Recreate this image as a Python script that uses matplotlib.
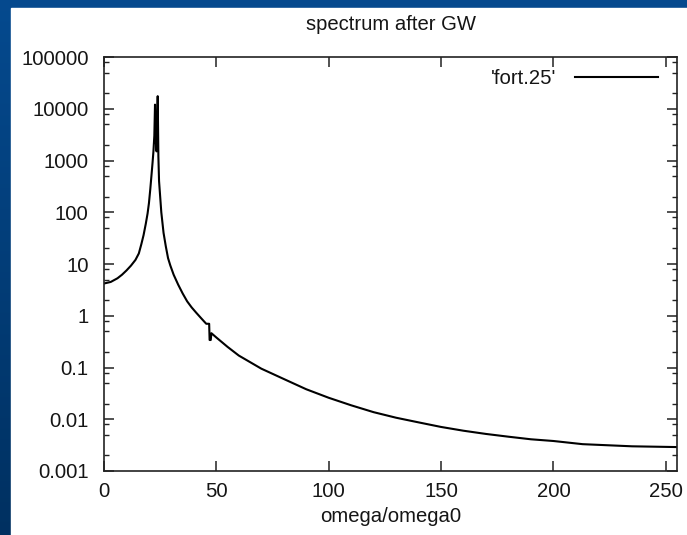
import numpy as np
import matplotlib
matplotlib.use("Agg")
import matplotlib.pyplot as plt
from matplotlib.ticker import LogLocator, NullFormatter, FixedLocator

# ---- data ----
omega = [0, 3, 6, 8, 10, 12, 14, 15.5, 16.6, 17.6, 18.6, 19.4, 20, 20.6, 21.1, 21.6,
         22, 22.4, 22.7, 23, 23.4, 23.9, 24.2, 24.5, 25.5, 26.5, 27.5, 28.5, 29.5, 31,
         33, 35, 37, 39, 41, 43, 44.5, 45.5, 46.8, 47, 47.5, 47.8, 50, 55, 60, 70, 80,
         90, 100, 110, 120, 130, 140, 150, 160, 170, 180, 190, 200, 213, 235, 255]
spectrum = [4.2, 4.5, 5.3, 6.2, 7.5, 9.3, 12, 16, 24, 36, 60, 95, 150, 280, 500, 900,
            1500, 3000, 12000, 2500, 1500, 17500, 1200, 400, 100, 40, 22, 13, 9.4, 6.2,
            4.0, 2.7, 1.9, 1.45, 1.15, 0.92, 0.78, 0.70, 0.70, 0.34, 0.34, 0.46, 0.38, 0.25,
            0.17, 0.095, 0.060, 0.038, 0.026, 0.0186, 0.0137, 0.0107, 0.0087, 0.0071, 0.006,
            0.0052, 0.0046, 0.0041, 0.0038, 0.0033, 0.0030, 0.0029]
series_label = "'fort.25'"
title = "spectrum after GW"
xlabel = "omega/omega0"
xticks = [0, 50, 100, 150, 200, 250]
yticks = [0.001, 0.01, 0.1, 1, 10, 100, 1000, 10000, 100000]
ytick_labels = ["0.001", "0.01", "0.1", "1", "10", "100", "1000", "10000", "100000"]

W, H = 687, 535
plt.rcParams['font.family'] = ['Liberation Sans', 'DejaVu Sans']
FS = 14.6
TXT = '#151515'

fig = plt.figure(figsize=(W / 100, H / 100), dpi=100)

# blue gradient background
bg = fig.add_axes([0, 0, 1, 1], zorder=-10)
grad = np.linspace(0, 1, 256)[:, None]
top = np.array([0.02, 0.29, 0.56])
bot = np.array([0.0, 0.19, 0.38])
img = top[None, None, :] * (1 - grad[..., None]) + bot[None, None, :] * grad[..., None]
bg.imshow(img, aspect='auto', extent=[0, 1, 0, 1])
bg.add_patch(plt.Rectangle((11 / W, 0), 1, 1 - 8 / H, color='white', zorder=2))
bg.set_xlim(0, 1)
bg.set_ylim(0, 1)
bg.axis('off')

ax = fig.add_axes([104 / W, 1 - 471 / H, (677 - 104) / W, (471 - 57) / H])
ax.plot(omega, spectrum, color='black', lw=1.5, label=series_label)
ax.set_yscale('log')
ax.set_xlim(0, 255)
ax.set_ylim(0.001, 100000)

ax.xaxis.set_major_locator(FixedLocator(xticks))
ax.set_xticklabels([str(t) for t in xticks])
ax.yaxis.set_major_locator(FixedLocator(yticks))
ax.set_yticklabels(ytick_labels)
ax.yaxis.set_minor_locator(LogLocator(base=10, subs=(2, 5, 8), numticks=20))
ax.yaxis.set_minor_formatter(NullFormatter())

ax.tick_params(which='major', direction='in', length=7, width=1.1, top=True, right=True,
               labelsize=FS, labelcolor=TXT, color='#222')
ax.tick_params(axis='y', which='major', pad=11)
ax.tick_params(axis='x', which='major', pad=8)
ax.tick_params(which='minor', direction='in', length=3.5, width=1.0, left=True, right=True,
               color='#222')
for s in ax.spines.values():
    s.set_linewidth(1.2)
    s.set_color('#222')

leg = ax.legend(loc='upper right', frameon=False, markerfirst=False, fontsize=FS,
                handlelength=4.1, handletextpad=0.9, borderaxespad=0.3,
                bbox_to_anchor=(1 - 5 / 573, 1 + 2 / 414))
for t in leg.get_texts():
    t.set_color(TXT)

fig.text(390.5 / W, 1 - 25 / H, title, ha='center', va='center', fontsize=FS, color=TXT)
fig.text(390.5 / W, 1 - 516 / H, xlabel, ha='center', va='center', fontsize=FS, color=TXT)

fig.savefig('out.png', dpi=100)
